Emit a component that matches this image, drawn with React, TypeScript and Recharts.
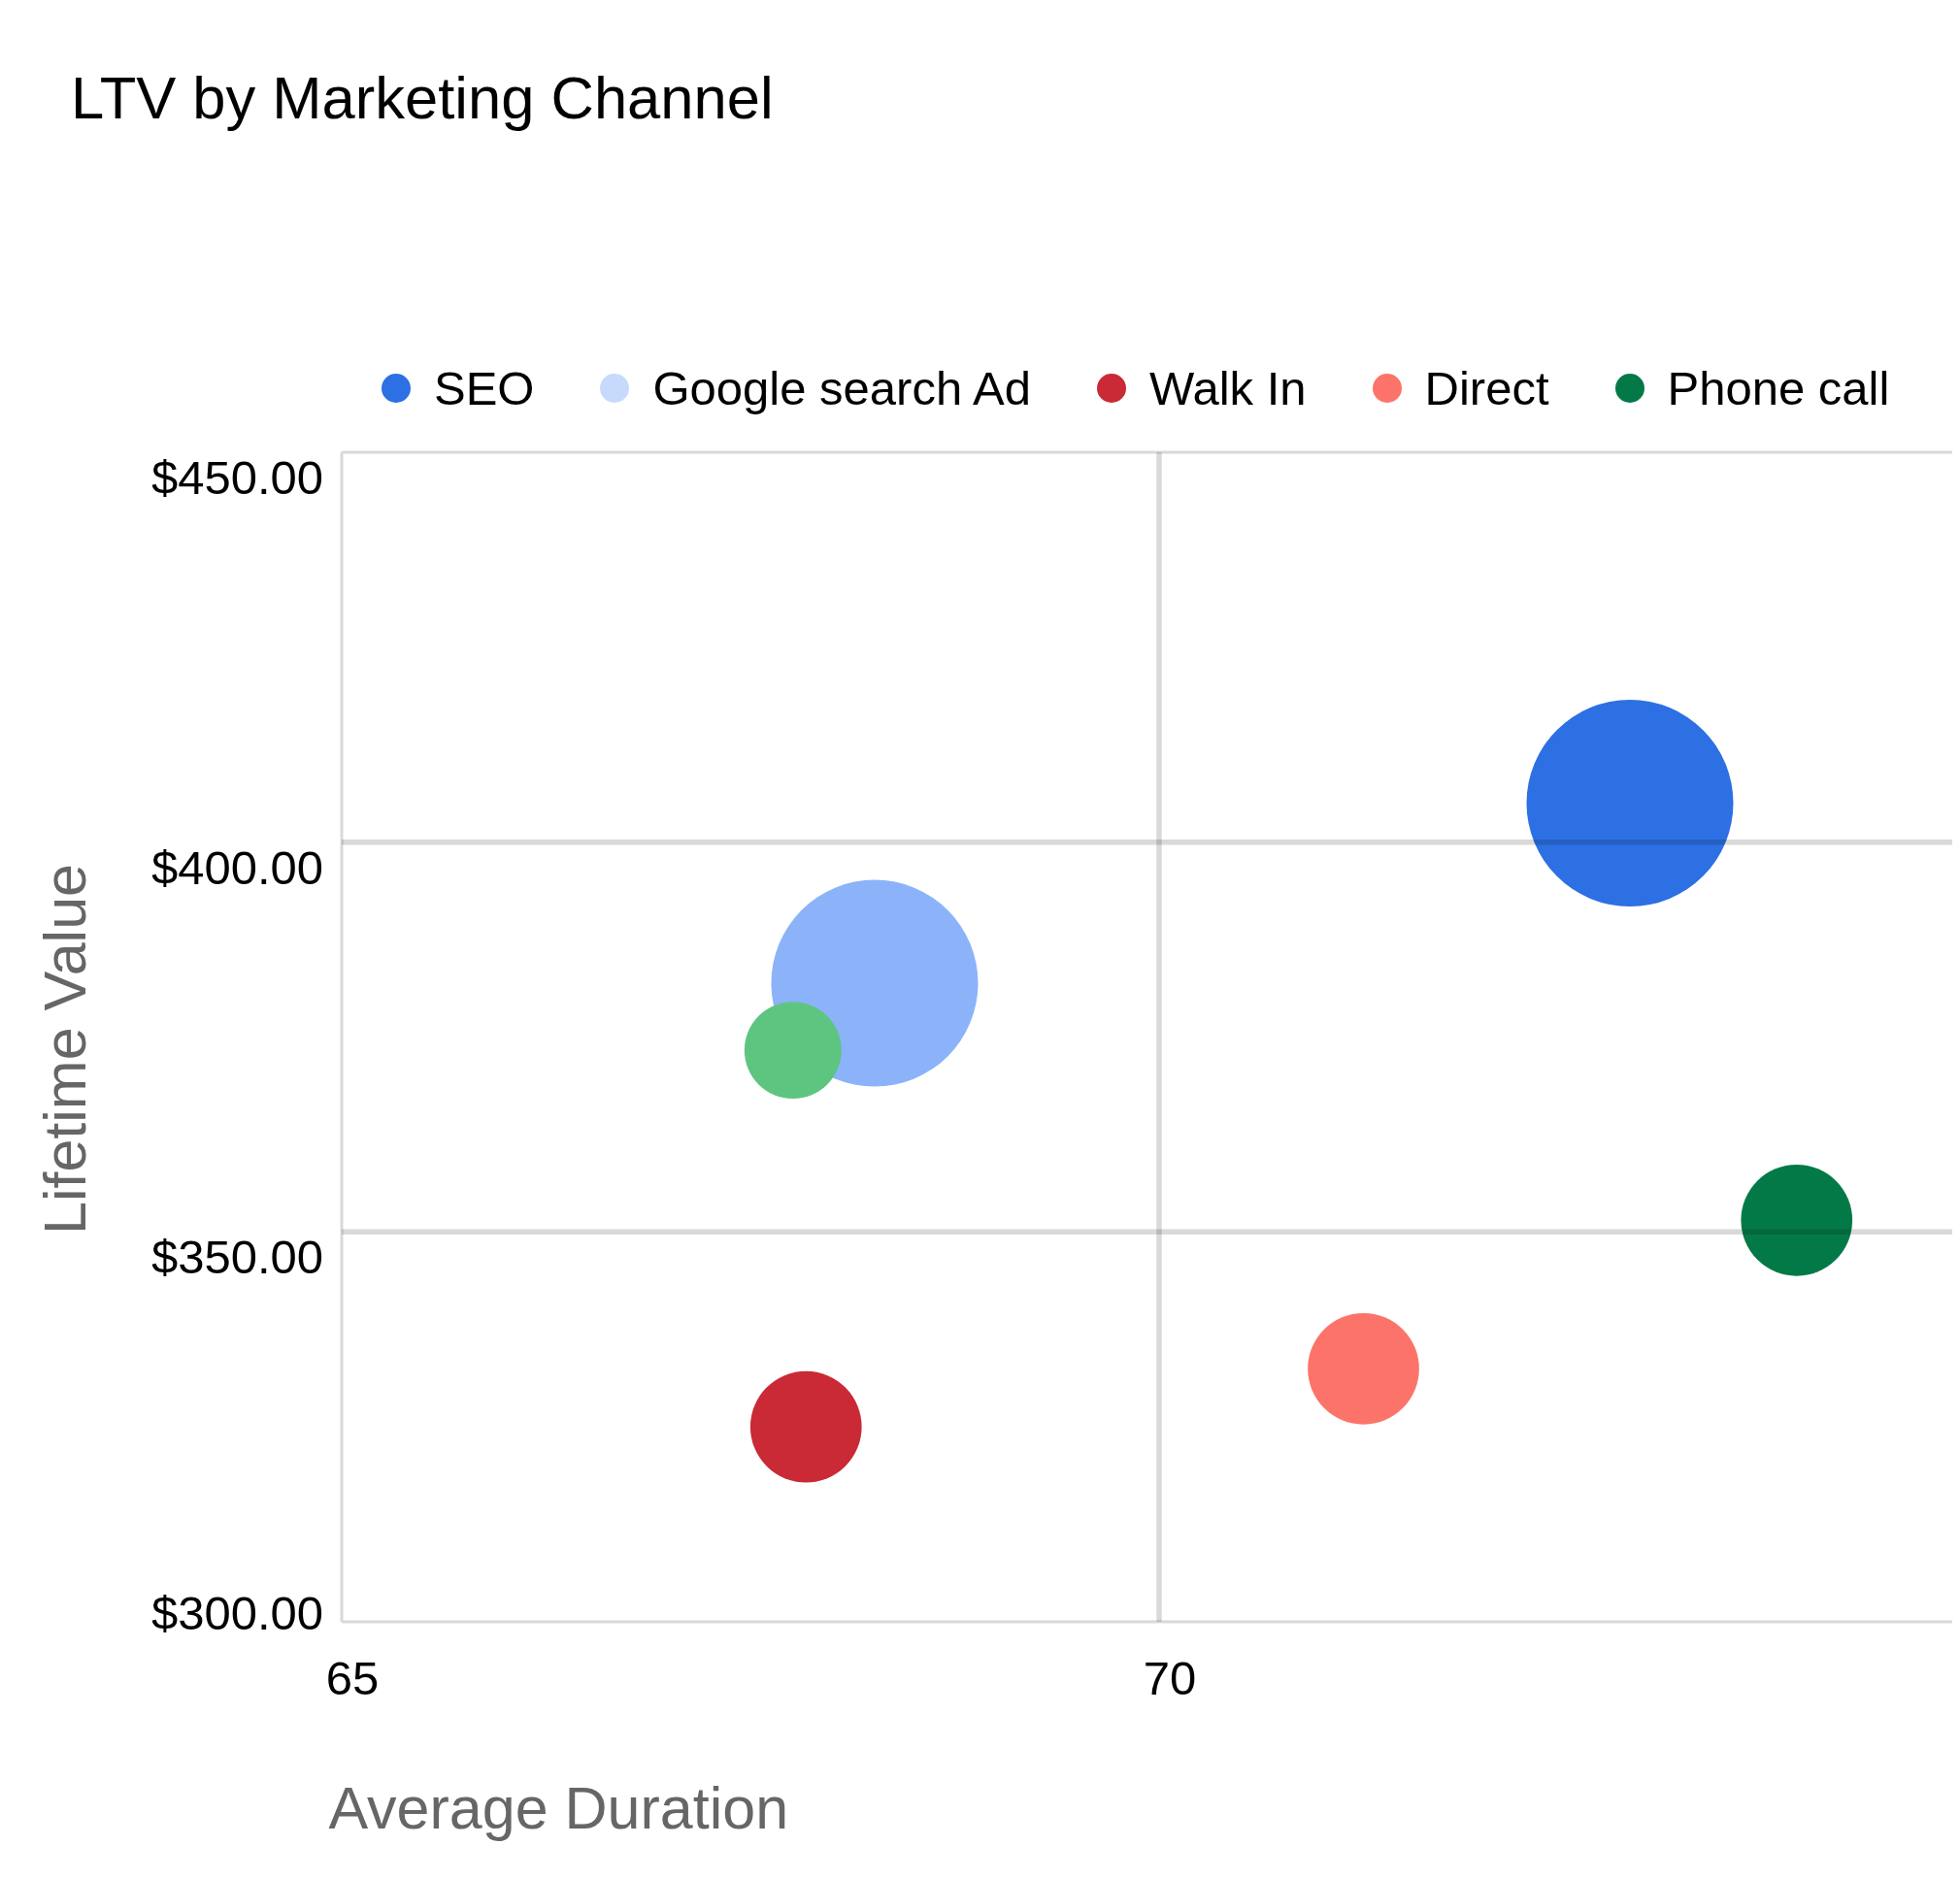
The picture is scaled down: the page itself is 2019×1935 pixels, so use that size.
import React from 'react'
import {
  ReferenceLine,
  Scatter,
  ScatterChart,
  XAxis,
  YAxis,
  ZAxis,
} from 'recharts'

const channels = ['SEO', 'Google search Ad', 'Other', 'Walk In', 'Direct', 'Phone call']
const avgDuration = [72.88, 68.26, 67.76, 67.84, 71.25, 73.9]
const lifetimeValue = [405.0, 381.9, 373.3, 325.0, 332.45, 351.5]
const customers = [100, 100, 22, 29, 29, 29]
const bubbleColors = ['#2c70e3', '#8cb2fa', '#5ec580', '#c92a35', '#fc7469', '#047948']
const legendColors = ['#2c70e3', '#c8dafc', null, '#c92a35', '#fc7469', '#047948']

const xTicks = [65, 70, 75]
const yTicks = [300, 350, 400, 450]
const innerX = [70, 75]
const innerY = [350, 400]

const FONT = '"Liberation Sans", Arial, Helvetica, sans-serif'
const MAX_AREA = Math.PI * 106.5 * 106.5

const series = channels.map((name, i) => ({
  name,
  color: bubbleColors[i],
  legendColor: legendColors[i],
  data: [{ x: avgDuration[i], y: lifetimeValue[i], z: customers[i] }],
}))

function formatMoney(v: number) {
  return '$' + v.toFixed(2)
}

function YTick({ x, y, payload }: any) {
  const isMin = payload.value === yTicks[0]
  return (
    <text x={x} y={y + (isMin ? 8 : 43)} textAnchor="end" fontSize={49} fontFamily={FONT} fill="#000">
      {formatMoney(payload.value)}
    </text>
  )
}

function XTick({ x, y, payload }: any) {
  // the last tick sits past the right edge of the page, as in the original
  if (payload.value === xTicks[xTicks.length - 1]) return null
  return (
    <text x={x + 11} y={y + 75} textAnchor="middle" fontSize={49} fontFamily={FONT} fill="#000">
      {payload.value}
    </text>
  )
}

function XTitle({ viewBox }: any) {
  return (
    <text x={viewBox.x - 13.5} y={viewBox.y + 213} fontSize={61} fontFamily={FONT} fill="#666">
      Average Duration
    </text>
  )
}

function YTitle({ viewBox }: any) {
  const cx = viewBox.x + 80
  const cy = viewBox.y + viewBox.height / 2 + 12.5
  return (
    <text
      x={cx}
      y={cy}
      transform={`rotate(-90 ${cx} ${cy})`}
      textAnchor="middle"
      fontSize={61}
      fontFamily={FONT}
      fill="#666"
    >
      Lifetime Value
    </text>
  )
}

export default function App() {
  return (
    <div style={{ position: 'relative', width: 2011, height: 1900, overflow: 'hidden', fontFamily: FONT }}>
      <div
        style={{
          position: 'absolute',
          left: 65,
          top: 62,
          fontSize: 61.5,
          lineHeight: '61px',
          color: '#000',
          whiteSpace: 'nowrap',
        }}
      >
        LTV by Marketing Channel
      </div>

      <div
        style={{
          position: 'absolute',
          left: 385,
          top: 361.5,
          height: 60,
          display: 'flex',
          alignItems: 'center',
          gap: 68,
          fontSize: 49,
          color: '#000',
          whiteSpace: 'nowrap',
          zIndex: 2,
        }}
      >
        {series
          .filter((s) => s.legendColor)
          .map((s) => (
            <div key={s.name} style={{ display: 'flex', alignItems: 'center' }}>
              <span
                style={{
                  width: 30,
                  height: 30,
                  borderRadius: '50%',
                  background: s.legendColor as string,
                  marginRight: 24,
                  display: 'inline-block',
                }}
              />
              <span>{s.name}</span>
            </div>
          ))}
      </div>

      <ScatterChart width={2028} height={1900} margin={{ top: 458, right: 0, bottom: 37, left: 0 }}>
        <XAxis
          type="number"
          dataKey="x"
          domain={[xTicks[0], xTicks[xTicks.length - 1]]}
          ticks={xTicks}
          height={200}
          tickSize={0}
          tickMargin={0}
          axisLine={false}
          tickLine={false}
          tick={<XTick />}
          label={<XTitle />}
        />
        <YAxis
          type="number"
          dataKey="y"
          domain={[yTicks[0], yTicks[yTicks.length - 1]]}
          ticks={yTicks}
          width={344}
          tickSize={0}
          tickMargin={19}
          axisLine={false}
          tickLine={false}
          tick={<YTick />}
          label={<YTitle />}
        />
        <ZAxis type="number" dataKey="z" domain={[0, 100]} range={[0, MAX_AREA]} />
        {series.map((s) => (
          <Scatter
            key={s.name}
            name={s.name}
            data={s.data}
            fill={s.color}
            shape="circle"
            isAnimationActive={false}
          />
        ))}
        {innerX.map((v) => (
          <ReferenceLine
            key={'gx' + v}
            x={v}
            stroke="#000"
            strokeOpacity={0.15}
            strokeWidth={5.5}
            zIndex={1000}
          />
        ))}
        {innerY.map((v) => (
          <ReferenceLine
            key={'gy' + v}
            y={v}
            stroke="#000"
            strokeOpacity={0.15}
            strokeWidth={5.5}
            zIndex={1000}
          />
        ))}
        <ReferenceLine x={xTicks[0]} stroke="#d9d9d9" strokeWidth={3} />
        <ReferenceLine y={yTicks[0]} stroke="#d9d9d9" strokeWidth={3} />
        <ReferenceLine y={yTicks[yTicks.length - 1]} stroke="#d9d9d9" strokeWidth={3} />
      </ScatterChart>
    </div>
  )
}
